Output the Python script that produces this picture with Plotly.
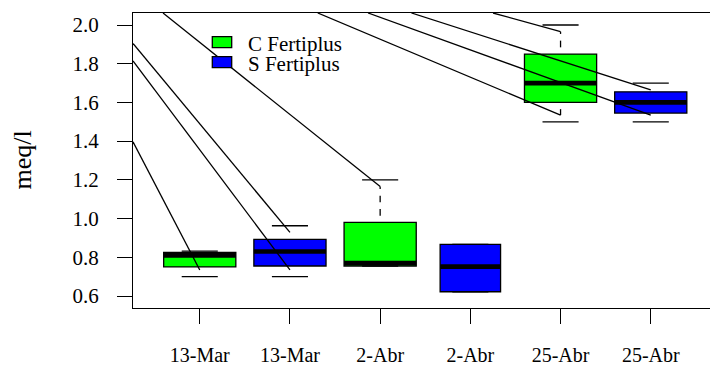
import plotly.graph_objects as go

# --- data -----------------------------------------------------------------
dates = ["13-Mar", "2-Abr", "25-Abr"]
series_names = ["C Fertiplus", "S Fertiplus"]
series_colors = ["#00ff00", "#0000ff"]

# five-number summaries, one entry per date (meq/l)
c_lower = [0.700, 0.755, 1.500]
c_q1 = [0.750, 0.755, 1.600]
c_median = [0.810, 0.770, 1.700]
c_q3 = [0.825, 0.980, 1.850]
c_upper = [0.832, 1.200, 2.000]

s_lower = [0.700, 0.622, 1.500]
s_q1 = [0.755, 0.622, 1.545]
s_median = [0.830, 0.752, 1.600]
s_q3 = [0.893, 0.867, 1.655]
s_upper = [0.963, 0.867, 1.700]

box_widths = [0.8, 0.8, 0.8, 0.67, 0.8, 0.8]

# stray segments running into whisker ends (start point, box index, end)
stray_x0 = [0.26, 0.26, 0.26, 0.593, 2.308, 2.866, 3.347, 4.252]
stray_y0 = [1.397, 1.814, 1.905, 2.062, 2.062, 2.062, 2.062, 2.062]
stray_box = [0, 1, 1, 2, 4, 5, 5, 4]
stray_end = ["lower", "lower", "upper", "upper", "lower", "lower", "upper", "upper"]

y_tick_vals = [0.6, 0.8, 1.0, 1.2, 1.4, 1.6, 1.8, 2.0]

# --- layout constants -----------------------------------------------------
W, H = 710, 369
M_L, M_R, M_T, M_B = 133, 0, 13, 61
X_RANGE = [0.26, 0.26 + (W - M_L - M_R) / 90.2]
Y_RANGE = [0.538, 2.062]
PLOT_H = H - M_T - M_B
PX_PER_Y = PLOT_H / (Y_RANGE[1] - Y_RANGE[0])
DASH = 6.7 / PX_PER_Y          # whisker dash / gap length in data units
MIN_DASH = 1.0 / PX_PER_Y
CAP_HALF = 0.2
LW = 1.3
FONT = "'Liberation Serif', 'Times New Roman', 'DejaVu Serif', serif"

# interleave the two series: C, S, C, S, C, S
boxes = []
for i, d in enumerate(dates):
    boxes.append(dict(label=d, color=series_colors[0], lower=c_lower[i], q1=c_q1[i],
                      med=c_median[i], q3=c_q3[i], upper=c_upper[i]))
    boxes.append(dict(label=d, color=series_colors[1], lower=s_lower[i], q1=s_q1[i],
                      med=s_median[i], q3=s_q3[i], upper=s_upper[i]))
positions = list(range(1, len(boxes) + 1))
tick_labels = [b["label"] for b in boxes]

fig = go.Figure()

# box bodies
fig.add_trace(go.Bar(
    x=positions,
    y=[b["q3"] - b["q1"] for b in boxes],
    base=[b["q1"] for b in boxes],
    width=box_widths,
    marker=dict(color=[b["color"] for b in boxes], line=dict(color="black", width=LW)),
    hoverinfo="skip",
))

stray_lookup = {(bi, end) for bi, end in zip(stray_box, stray_end)}


def whisker_segments(bi, end):
    """Dashed whisker pieces running from the box edge out to the cap (gap first)."""
    b = boxes[bi]
    if end == "upper":
        edge, cap, sgn = b["q3"], b["upper"], 1
    else:
        edge, cap, sgn = b["q1"], b["lower"], -1
    length = abs(cap - edge)
    limit = length - DASH if (bi, end) in stray_lookup else length
    segs = []
    k = 0
    pos = 0.0
    while pos < limit:
        nxt = min(pos + DASH, limit)
        if k % 2 == 1 and nxt - pos > MIN_DASH:
            segs.append((edge + sgn * pos, edge + sgn * nxt))
        pos += DASH
        k += 1
    return segs


wx, wy = [], []
cx, cy = [], []
mx, my = [], []
for bi, b in enumerate(boxes):
    p = positions[bi]
    for end in ("upper", "lower"):
        for y0, y1 in whisker_segments(bi, end):
            wx += [p, p, None]
            wy += [y0, y1, None]
        cap = b[end]
        cx += [p - CAP_HALF, p + CAP_HALF, None]
        cy += [cap, cap, None]
    hw = box_widths[bi] / 2
    mx += [p - hw, p + hw, None]
    my += [b["med"], b["med"], None]

fig.add_trace(go.Scatter(x=wx, y=wy, mode="lines", line=dict(color="black", width=LW),
                         hoverinfo="skip"))
fig.add_trace(go.Scatter(x=cx, y=cy, mode="lines", line=dict(color="black", width=LW),
                         hoverinfo="skip"))
fig.add_trace(go.Scatter(x=mx, y=my, mode="lines", line=dict(color="black", width=4.7),
                         hoverinfo="skip"))

# stray segments ending one dash short of the cap
sx, sy = [], []
for x0, y0, bi, end in zip(stray_x0, stray_y0, stray_box, stray_end):
    b = boxes[bi]
    if end == "upper":
        yend = max(b["upper"] - DASH, b["q3"])
    else:
        yend = min(b["lower"] + DASH, b["q1"])
    sx += [x0, positions[bi], None]
    sy += [y0, yend, None]
fig.add_trace(go.Scatter(x=sx, y=sy, mode="lines", line=dict(color="black", width=LW),
                         hoverinfo="skip"))

# empty trace so the label-only y axis gets its own subplot
fig.add_trace(go.Scatter(x=[], y=[], yaxis="y2", hoverinfo="skip"))

# legend drawn as swatches + labels
plot_w = W - M_L - M_R


def px_x(v):
    return (v - M_L) / plot_w


def px_y(v):
    return (H - M_B - v) / PLOT_H


legend_rows = [(36.7, 47.7, 44.0), (56.7, 67.7, 64.0)]
for (top, bot, mid), name, col in zip(legend_rows, series_names, series_colors):
    fig.add_shape(type="rect", xref="paper", yref="paper",
                  x0=px_x(212.3), x1=px_x(231.7), y0=px_y(bot), y1=px_y(top),
                  fillcolor=col, line=dict(color="black", width=LW))
    fig.add_annotation(xref="paper", yref="paper", x=px_x(246), y=px_y(mid),
                       xanchor="left", yanchor="middle", text=name, showarrow=False,
                       font=dict(family=FONT, size=21, color="black"))

# y-axis title
fig.add_annotation(xref="paper", yref="paper", x=px_x(22), y=0.5, text="meq/l",
                   textangle=-90, showarrow=False, xanchor="center", yanchor="middle",
                   font=dict(family=FONT, size=26, color="black"))

tick_font = dict(family=FONT, size=21, color="black")
fig.update_layout(
    width=W, height=H,
    margin=dict(l=M_L, r=M_R, t=M_T, b=M_B, pad=0),
    plot_bgcolor="white", paper_bgcolor="white",
    showlegend=False, barmode="overlay",
    font=dict(family=FONT, size=21, color="black"),
    xaxis=dict(range=X_RANGE, tickmode="array", tickvals=positions, ticktext=tick_labels,
               ticks="outside", ticklen=15, tickwidth=LW, tickcolor="black",
               showline=True, linecolor="black", linewidth=LW, mirror=True,
               showgrid=False, zeroline=False, ticklabelstandoff=14,
               automargin=False, tickfont=dict(family=FONT, size=20, color="black")),
    # visible y ticks and axis line
    yaxis=dict(range=Y_RANGE, tickmode="array", tickvals=y_tick_vals,
               ticks="outside", ticklen=15, tickwidth=LW, tickcolor="black",
               showline=True, linecolor="black", linewidth=LW, mirror=False,
               showgrid=False, zeroline=False, showticklabels=False,
               automargin=False),
    # y tick labels set further out from the axis
    yaxis2=dict(range=Y_RANGE, overlaying="y", side="left", anchor="x",
                tickmode="array", tickvals=y_tick_vals,
                ticktext=[f"{v:.1f}" for v in y_tick_vals],
                ticks="outside", ticklen=29, tickcolor="rgba(0,0,0,0)",
                showline=False, showgrid=False, zeroline=False,
                automargin=False, tickfont=tick_font),
)

fig.write_html("out.html")
